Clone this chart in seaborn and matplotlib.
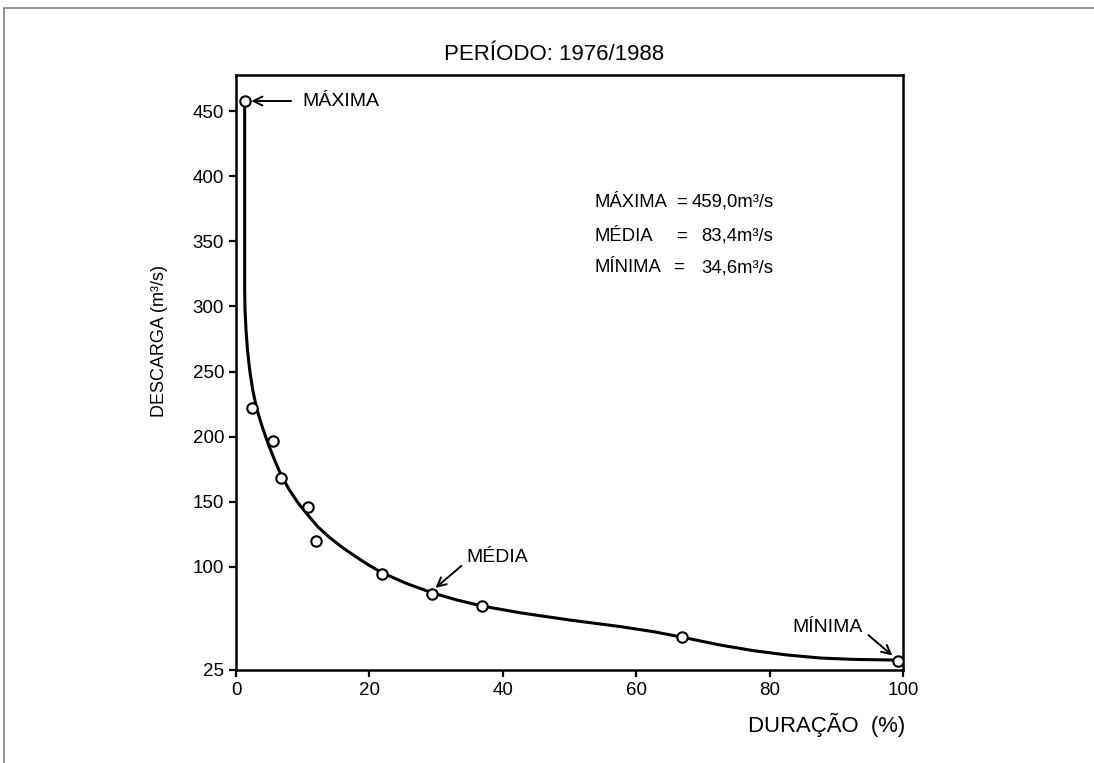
import numpy as np
import matplotlib
matplotlib.use("Agg")
import matplotlib.pyplot as plt
from matplotlib.lines import Line2D
import seaborn as sns
import pandas as pd

# ---- data ----
point_x = [1.4, 2.4, 5.6, 6.7, 10.8, 12.0, 21.9, 29.4, 36.9, 66.9, 99.2]
point_y = [458, 221.8, 196.2, 168.0, 145.7, 120.0, 94.7, 80.2, 71.2, 48.8, 31.7]

curve_x = [1.30, 1.30, 1.35, 1.50, 1.72, 2.05, 2.5, 3.1, 3.9, 4.85, 5.8,
           6.8, 8.0, 9.3, 10.8, 12.3, 14.0, 16.0, 18.0, 19.8, 21.9, 25.6,
           29.4, 33.1, 36.9, 42.6, 50.1, 57.6, 62.6, 66.8, 72.6, 77.6, 82.6,
           87.6, 92.5, 99.1]
curve_y = [458, 312.8, 297.5, 282.0, 266.7, 251.3, 236.0, 221.5, 208.0, 194.0,
           181.8, 169.8, 159.0, 149.0, 139.5, 130.5, 122.5, 114.5, 107.5, 101.5,
           95.5, 87.7, 81.0, 75.8, 71.4, 66.5, 61.2, 56.5, 52.8, 48.9, 43.1,
           39.0, 35.9, 33.7, 32.7, 32.2]

y_ticks = [25, 100, 150, 200, 250, 300, 350, 400, 450]
x_ticks = [0, 20, 40, 60, 80, 100]

title = "PERÍODO: 1976/1988"
stat_labels = ["MÁXIMA", "MÉDIA", "MÍNIMA"]
stat_values = ["459,0m³/s", "83,4m³/s", "34,6m³/s"]

# ---- style ----
sns.set_theme(style="white")
plt.rcParams["font.family"] = ["Liberation Sans", "DejaVu Sans"]
plt.rcParams["text.color"] = "black"
plt.rcParams["axes.labelcolor"] = "black"
plt.rcParams["xtick.color"] = "black"
plt.rcParams["ytick.color"] = "black"

fig = plt.figure(figsize=(10.94, 7.63), dpi=100)
ax = fig.add_axes([236 / 1094, 1 - 670 / 763, 667 / 1094, 595 / 763])

# piecewise scale: section below 100 is slightly stretched
k = 79.5 / 75.0
def fwd(y):
    y = np.asarray(y, dtype=float)
    return np.where(y >= 100, y, 100 - (100 - y) * k)
def inv(f):
    f = np.asarray(f, dtype=float)
    return np.where(f >= 100, f, 100 - (100 - f) / k)
ax.set_yscale("function", functions=(fwd, inv))

curve_df = pd.DataFrame({"x": curve_x, "y": curve_y})
pts_df = pd.DataFrame({"x": point_x, "y": point_y})

sns.lineplot(data=curve_df, x="x", y="y", sort=False, ax=ax,
             color="black", linewidth=2.2, estimator=None)
ax.lines[-1].set_solid_joinstyle("round")
ax.plot(pts_df["x"], pts_df["y"], linestyle="none", marker="o",
        markersize=7.5, markerfacecolor="white", markeredgecolor="black",
        markeredgewidth=1.5, zorder=5)

ax.set_xlim(0, 100)
ax.set_ylim(25, 478)
ax.set_xticks(x_ticks)
ax.set_xticklabels([str(v) for v in x_ticks])
ax.set_yticks(y_ticks)
ax.set_yticklabels([str(v) for v in y_ticks])
ax.tick_params(axis="both", which="major", direction="out", length=5,
               width=1.6, color="black", labelsize=13.5, labelcolor="black",
               pad=3.5, left=True, bottom=True)
for s in ax.spines.values():
    s.set_color("black")
    s.set_linewidth(1.8)
    s.set_visible(True)
ax.grid(False)

ax.set_ylabel("DESCARGA (m³/s)", fontsize=13, color="black")
ax.yaxis.set_label_coords(-0.102, 0.553)
ax.set_xlabel("DURAÇÃO  (%)", fontsize=15.9, color="black", ha="right")
ax.xaxis.set_label_coords(1.003, -0.072)

fig.text(554 / 1094, 1 - 55 / 763, title, fontsize=16, ha="center",
         va="center", color="black")

# annotations
ax.annotate("MÁXIMA", xy=(point_x[0] + 0.9, point_y[0]), xytext=(10.0, point_y[0]),
            fontsize=14, ha="left", va="center", color="black",
            arrowprops=dict(arrowstyle="->", color="black", lw=1.4,
                            shrinkA=6, shrinkB=0, mutation_scale=16))
ax.annotate("MÉDIA", xy=(29.9, 84.5), xytext=(34.6, 106.7),
            fontsize=14, ha="left", va="center", color="black",
            arrowprops=dict(arrowstyle="->", color="black", lw=1.4,
                            shrinkA=2, shrinkB=0, mutation_scale=16,
                            relpos=(0, 0.3)))
ax.annotate("MÍNIMA", xy=(98.4, 35.5), xytext=(94.0, 55.5),
            fontsize=14, ha="right", va="center", color="black",
            arrowprops=dict(arrowstyle="->", color="black", lw=1.4,
                            shrinkA=2, shrinkB=0, mutation_scale=16,
                            relpos=(1, 0.35)))

# statistics block
row_y = [380.0, 354.0, 329.8]
eq_x = [66.8, 66.8, 66.3]
for lab, val, yy, ex in zip(stat_labels, stat_values, row_y, eq_x):
    ax.text(53.7, yy, lab, fontsize=13.3, ha="left", va="center", color="black")
    ax.text(ex, yy, "=", fontsize=13.3, ha="center", va="center", color="black")
    ax.text(80.6, yy, val, fontsize=13.3, ha="right", va="center", color="black")

# outer frame (top and left edges visible)
fig.add_artist(Line2D([4 / 1094, 1.0], [1 - 8 / 763, 1 - 8 / 763],
                      transform=fig.transFigure, color="#808080", lw=1.2))
fig.add_artist(Line2D([4 / 1094, 4 / 1094], [0.0, 1 - 8 / 763],
                      transform=fig.transFigure, color="#808080", lw=1.2))

fig.savefig("out.png", dpi=100, facecolor="white")
